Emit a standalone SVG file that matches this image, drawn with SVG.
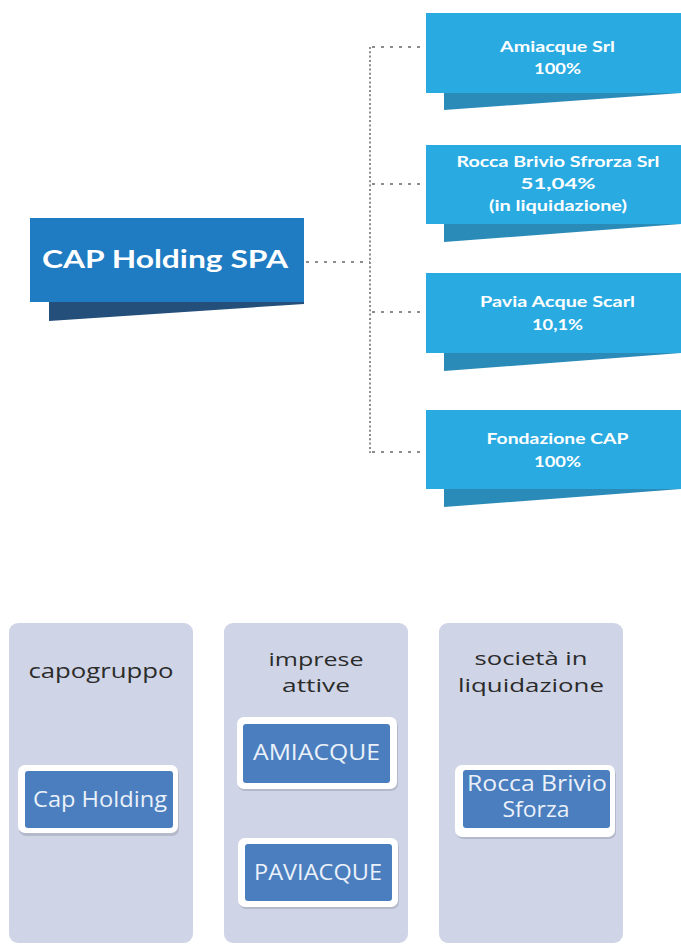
<svg xmlns="http://www.w3.org/2000/svg" width="681" height="945" viewBox="0 0 681 945">
<style>
.main{fill:#1f7bc2}
.mainsh{fill:#244f7a}
.child{fill:#29abe2}
.childsh{fill:#2a8bb8}
.t1{font-family:Lato,"Liberation Sans",sans-serif;font-weight:bold;fill:#ffffff}
.hdot{fill:none;stroke:#8c8c8c;stroke-width:2;stroke-dasharray:3 6}
.vdot{fill:none;stroke:#8c8c8c;stroke-width:2;stroke-dasharray:2 2.3}
.panel{fill:#cfd5e6}
.ptitle{font-family:"Open Sans","Liberation Sans",sans-serif;font-size:20px;fill:#2b2b2b;text-anchor:middle}
.two{font-size:19px}
.wb{fill:#ffffff}
.wsh{fill:#9aa0ad;opacity:0.5}
.bb{fill:#4a7ebe}
.bt{font-family:"Open Sans","Liberation Sans",sans-serif;font-size:21px;fill:#eaf1fa;text-anchor:middle}
</style>

<g id="connectors">
  <line class="hdot" x1="306" y1="262" x2="370" y2="262"/>
  <line class="vdot" x1="370" y1="47" x2="370" y2="453"/>
  <line class="hdot" x1="372" y1="47" x2="426" y2="47"/>
  <line class="hdot" x1="372" y1="184" x2="426" y2="184"/>
  <line class="hdot" x1="372" y1="312" x2="426" y2="312"/>
  <line class="hdot" x1="372" y1="452" x2="426" y2="452"/>
</g>

<g id="cap-holding-spa">
  <polygon class="mainsh" points="49,301 304,301 304,304 49,321"/>
  <rect class="main" x="30" y="218" width="274" height="84"/>
  <text class="t1" x="42" y="268" font-size="25" textLength="246" lengthAdjust="spacingAndGlyphs">CAP Holding SPA</text>
</g>

<g id="amiacque-srl">
  <polygon class="childsh" points="444,92 681,92 681,93 444,110"/>
  <rect class="child" x="426" y="13" width="255" height="80"/>
  <text class="t1" x="557.5" y="52" font-size="16" text-anchor="middle" textLength="115" lengthAdjust="spacingAndGlyphs">Amiacque Srl</text>
  <text class="t1" x="557.5" y="74" font-size="16" text-anchor="middle" textLength="47" lengthAdjust="spacingAndGlyphs">100%</text>
</g>

<g id="rocca-brivio-sforza-srl">
  <polygon class="childsh" points="444,223 681,223 681,224 444,242"/>
  <rect class="child" x="426" y="145" width="255" height="79"/>
  <text class="t1" x="558" y="167" font-size="16" text-anchor="middle" textLength="203" lengthAdjust="spacingAndGlyphs">Rocca Brivio Sfrorza Srl</text>
  <text class="t1" x="558" y="189" font-size="16" text-anchor="middle" textLength="75" lengthAdjust="spacingAndGlyphs">51,04%</text>
  <text class="t1" x="558" y="211" font-size="16" text-anchor="middle" textLength="138" lengthAdjust="spacingAndGlyphs">(in liquidazione)</text>
</g>

<g id="pavia-acque-scarl">
  <polygon class="childsh" points="444,352 681,352 681,353 444,371"/>
  <rect class="child" x="426" y="273" width="255" height="80"/>
  <text class="t1" x="557.5" y="307" font-size="16" text-anchor="middle" textLength="155" lengthAdjust="spacingAndGlyphs">Pavia Acque Scarl</text>
  <text class="t1" x="557.5" y="330" font-size="16" text-anchor="middle" textLength="51" lengthAdjust="spacingAndGlyphs">10,1%</text>
</g>

<g id="fondazione-cap">
  <polygon class="childsh" points="444,488 681,488 681,489 444,507"/>
  <rect class="child" x="426" y="410" width="255" height="79"/>
  <text class="t1" x="557.5" y="444" font-size="16" text-anchor="middle" textLength="142" lengthAdjust="spacingAndGlyphs">Fondazione CAP</text>
  <text class="t1" x="557.5" y="467" font-size="16" text-anchor="middle" textLength="47" lengthAdjust="spacingAndGlyphs">100%</text>
</g>

<g id="panel-capogruppo">
  <rect class="panel" x="9" y="623" width="184" height="320" rx="9"/>
  <text class="ptitle" x="101" y="678" textLength="145" lengthAdjust="spacingAndGlyphs">capogruppo</text>
  <rect class="wsh" x="19" y="767" width="160" height="69" rx="7"/>
  <rect class="wb" x="18" y="765" width="160" height="68" rx="7"/>
  <rect class="bb" x="25" y="771" width="148" height="57" rx="3"/>
  <text class="bt" x="100" y="807" textLength="134" lengthAdjust="spacingAndGlyphs">Cap Holding</text>
</g>

<g id="panel-imprese-attive">
  <rect class="panel" x="224" y="623" width="184" height="320" rx="9"/>
  <text class="ptitle two" x="316" y="666" textLength="95" lengthAdjust="spacingAndGlyphs">imprese</text>
  <text class="ptitle two" x="316" y="692" textLength="68" lengthAdjust="spacingAndGlyphs">attive</text>
  <rect class="wsh" x="238" y="719" width="160" height="72" rx="7"/>
  <rect class="wb" x="237" y="717" width="160" height="72" rx="7"/>
  <rect class="bb" x="243" y="724" width="147" height="59" rx="3"/>
  <text class="bt" x="316.5" y="760" textLength="127" lengthAdjust="spacingAndGlyphs">AMIACQUE</text>
  <rect class="wsh" x="239" y="840" width="160" height="69" rx="7"/>
  <rect class="wb" x="238" y="838" width="160" height="69" rx="7"/>
  <rect class="bb" x="245" y="844" width="147" height="57" rx="3"/>
  <text class="bt" x="318" y="880" textLength="128" lengthAdjust="spacingAndGlyphs">PAVIACQUE</text>
</g>

<g id="panel-societa-in-liquidazione">
  <rect class="panel" x="439" y="623" width="184" height="320" rx="9"/>
  <text class="ptitle two" x="531" y="665" textLength="113" lengthAdjust="spacingAndGlyphs">società in</text>
  <text class="ptitle two" x="531" y="692" textLength="146" lengthAdjust="spacingAndGlyphs">liquidazione</text>
  <rect class="wsh" x="456" y="767" width="160" height="72" rx="7"/>
  <rect class="wb" x="455" y="765" width="160" height="72" rx="7"/>
  <rect class="bb" x="463" y="770" width="147" height="58" rx="3"/>
  <text class="bt two" x="537" y="791" textLength="140" lengthAdjust="spacingAndGlyphs">Rocca Brivio</text>
  <text class="bt two" x="536" y="817" textLength="67" lengthAdjust="spacingAndGlyphs">Sforza</text>
</g>
</svg>
